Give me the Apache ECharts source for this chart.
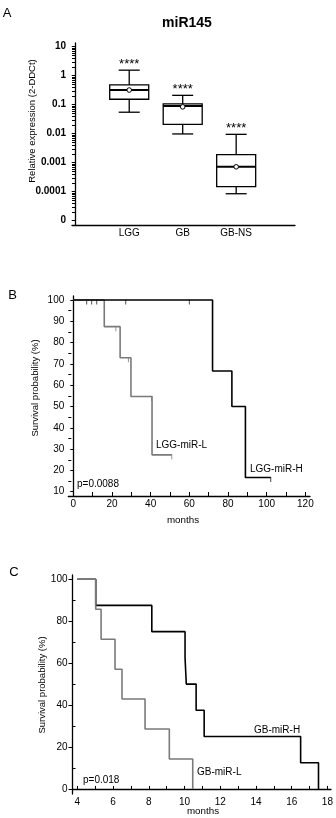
<!DOCTYPE html>
<html>
<head>
<meta charset="utf-8">
<script src="https://cdn.jsdelivr.net/npm/echarts@6/dist/echarts.min.js"></script>
<style>
  html, body { margin: 0; padding: 0; background: #fff; }
  #main { width: 336px; height: 818px; }
</style>
</head>
<body>
<div id="main"></div>
<script>
// panel A - miR145 expression boxplots
var groups = ['LGG', 'GB', 'GB-NS'];
var boxLow = [0.055, 0.0098, 0.000085];
var boxQ1 = [0.154, 0.021, 0.00015];
var boxMedian = [0.32, 0.09, 0.00072];
var boxQ3 = [0.48, 0.106, 0.0019];
var boxHigh = [1.55, 0.21, 0.0095];
var boxMean = [0.32, 0.084, 0.00072];
var signif = ['****', '****', '****'];
var decadeTicks = [0.00001, 0.0001, 0.001, 0.01, 0.1, 1, 10];
var decadeLabels = ['0', '0.0001', '0.001', '0.01', '0.1', '1', '10'];

// panel B - LGG survival
var lggLowMonths = [0, 16, 24.2, 29.8, 40.7, 50.9];
var lggLowSurv = [100, 87.5, 72.9, 54.7, 27.3, 27.3];
var lggLowCensMonths = [22, 28.5, 40.5, 50.9];
var lggLowCensSurv = [87.5, 72.9, 54.7, 27.3];
var lggHighMonths = [0, 72, 82, 89, 102.1];
var lggHighSurv = [100, 66.7, 50, 16.7, 16.7];
var lggHighCensMonths = [6.9, 9.5, 12.1, 27.1, 60, 102.1];
var lggHighCensSurv = [100, 100, 100, 100, 100, 16.7];
var bMonthTicks = [0, 10, 20, 30, 40, 50, 60, 70, 80, 90, 100, 110, 120];
var bMonthLabels = [0, 20, 40, 60, 80, 100, 120];
var bSurvLabels = [10, 20, 30, 40, 50, 60, 70, 80, 90, 100];
var bSurvMinor = [15, 25, 35, 45, 55, 65, 75, 85, 95];

// panel C - GB survival
var gbHighMonths = [4, 5.03, 8.17, 10.03, 10.1, 10.65, 11.1, 16.5, 17.5];
var gbHighSurv = [100, 87.5, 75, 62.5, 50, 37.5, 25, 12.5, 0];
var gbLowMonths = [4, 5.03, 5.33, 6.11, 6.5, 7.79, 9.15, 10.46];
var gbLowSurv = [100, 85.7, 71.4, 57.1, 42.9, 28.6, 14.3, 0];
var cMonthTicks = [4, 5, 6, 7, 8, 9, 10, 11, 12, 13, 14, 15, 16, 17, 18];
var cMonthLabels = [4, 6, 8, 10, 12, 14, 16, 18];
var cSurvLabels = [0, 20, 40, 60, 80, 100];
var cSurvMinor = [10, 30, 50, 70, 90];

var FONT = '"Liberation Sans", Arial, sans-serif';

function zip(xs, ys) {
    return xs.map(function (x, i) { return [x, ys[i]]; });
}

// log minor ticks 2..9 in every decade
var minorLog = [];
decadeTicks.slice(0, -1).forEach(function (d) {
    [2, 3, 4, 5, 6, 7, 8, 9].forEach(function (k) { minorLog.push(d * k); });
});

var boxData = groups.map(function (g, i) {
    return [i + 1, boxLow[i], boxQ1[i], boxMedian[i], boxQ3[i], boxHigh[i], boxMean[i]];
});

function renderBox(params, api) {
    var x = api.value(0);
    var pLow = api.coord([x, api.value(1)]);
    var pQ1 = api.coord([x, api.value(2)]);
    var pMed = api.coord([x, api.value(3)]);
    var pQ3 = api.coord([x, api.value(4)]);
    var pHigh = api.coord([x, api.value(5)]);
    var pMean = api.coord([x, api.value(6)]);
    var cx = pMed[0];
    var half = 19.5, cap = 10.5;
    var st = { stroke: '#000', lineWidth: 1.3 };
    return {
        type: 'group',
        children: [
            { type: 'line', shape: { x1: cx, y1: pHigh[1], x2: cx, y2: pQ3[1] }, style: st },
            { type: 'line', shape: { x1: cx, y1: pQ1[1], x2: cx, y2: pLow[1] }, style: st },
            { type: 'line', shape: { x1: cx - cap, y1: pHigh[1], x2: cx + cap, y2: pHigh[1] }, style: st },
            { type: 'line', shape: { x1: cx - cap, y1: pLow[1], x2: cx + cap, y2: pLow[1] }, style: st },
            { type: 'rect', shape: { x: cx - half, y: pQ3[1], width: half * 2, height: pQ1[1] - pQ3[1] },
              style: { stroke: '#000', fill: '#fff', lineWidth: 1.3 } },
            { type: 'line', shape: { x1: cx - half, y1: pMed[1], x2: cx + half, y2: pMed[1] },
              style: { stroke: '#000', lineWidth: 2 } },
            { type: 'circle', shape: { cx: cx, cy: pMean[1], r: 2.3 },
              style: { stroke: '#000', fill: '#fff', lineWidth: 1 } },
            { type: 'text', x: cx, y: pHigh[1] - 6,
              style: { text: signif[params.dataIndex], font: '13px ' + FONT, textAlign: 'center',
                       textVerticalAlign: 'middle', fill: '#000' } }
        ]
    };
}

function txt(text, x, y, size, opts) {
    opts = opts || {};
    return {
        type: 'text', x: x, y: y, rotation: opts.rotation || 0,
        style: {
            text: text, fill: '#000',
            font: (opts.bold ? 'bold ' : '') + size + 'px ' + FONT,
            textAlign: opts.align || 'center', textVerticalAlign: 'middle'
        }
    };
}

var axisLineStyle = { lineStyle: { color: '#000', width: 1.3 } };
var lblStyle = { color: '#000', fontSize: 10, fontFamily: FONT };

var myChart = echarts.init(document.getElementById('main'));

option = {
    animation: false,
    backgroundColor: '#fff',
    grid: [
        { left: 72, top: 43, width: 223, height: 182 },
        { left: 68.3, top: 296, width: 241.7, height: 200 },
        { left: 72.5, top: 575, width: 258.5, height: 219 }
    ],
    xAxis: [
        {
            type: 'value', gridIndex: 0, min: -0.07, max: 4.1,
            axisLine: axisLineStyle, axisTick: { show: false }, splitLine: { show: false },
            axisLabel: Object.assign({ margin: 3, customValues: [1, 2, 3],
                formatter: function (v) { return groups[Math.round(v) - 1] || ''; } }, lblStyle)
        },
        {
            type: 'value', gridIndex: 1, min: -2.6, max: 122.4,
            axisLine: axisLineStyle, splitLine: { show: false },
            axisTick: { customValues: bMonthTicks, inside: true, length: 4, lineStyle: { color: '#000' } },
            axisLabel: Object.assign({ margin: 3, customValues: bMonthLabels }, lblStyle)
        },
        {
            type: 'value', gridIndex: 2, min: 3.73, max: 18.2,
            axisLine: axisLineStyle, splitLine: { show: false },
            axisTick: { customValues: cMonthTicks, inside: true, length: 3, lineStyle: { color: '#000' } },
            axisLabel: Object.assign({ margin: 3, customValues: cMonthLabels }, lblStyle)
        }
    ],
    yAxis: [
        {
            type: 'log', gridIndex: 0, position: 'left', min: 0.0000071, max: 13.4,
            axisLine: axisLineStyle, splitLine: { show: false },
            axisTick: { customValues: decadeTicks, length: 4, lineStyle: { color: '#000' } },
            axisLabel: Object.assign({}, lblStyle, { fontWeight: 'bold', margin: 6, customValues: decadeTicks,
                formatter: function (v) {
                    var i = decadeTicks.findIndex(function (d) { return Math.abs(Math.log10(d) - Math.log10(v)) < 0.01; });
                    return i >= 0 ? decadeLabels[i] : '';
                } })
        },
        {
            type: 'log', gridIndex: 0, position: 'left', min: 0.0000071, max: 13.4,
            axisLine: { show: false }, splitLine: { show: false }, axisLabel: { show: false },
            axisTick: { customValues: minorLog, inside: true, length: 3.5, lineStyle: { color: '#000', width: 1 } }
        },
        {
            type: 'value', gridIndex: 1, position: 'left', min: 7.98, max: 101.9,
            axisLine: axisLineStyle, splitLine: { show: false },
            axisTick: { customValues: bSurvLabels, length: 3, lineStyle: { color: '#000' } },
            axisLabel: Object.assign({ margin: 4, customValues: bSurvLabels }, lblStyle)
        },
        {
            type: 'value', gridIndex: 1, position: 'left', min: 7.98, max: 101.9,
            axisLine: { show: false }, splitLine: { show: false }, axisLabel: { show: false },
            axisTick: { customValues: bSurvMinor, inside: true, length: 3, lineStyle: { color: '#000' } }
        },
        {
            type: 'value', gridIndex: 2, position: 'left', min: -2.4, max: 102,
            axisLine: axisLineStyle, splitLine: { show: false },
            axisTick: { customValues: cSurvLabels, length: 4, lineStyle: { color: '#000' } },
            axisLabel: Object.assign({ margin: 5, customValues: cSurvLabels }, lblStyle)
        },
        {
            type: 'value', gridIndex: 2, position: 'left', min: -2.4, max: 102,
            axisLine: { show: false }, splitLine: { show: false }, axisLabel: { show: false },
            axisTick: { customValues: cSurvMinor, inside: true, length: 3, lineStyle: { color: '#000' } }
        }
    ],
    series: [
        {
            type: 'custom', name: 'miR145', xAxisIndex: 0, yAxisIndex: 0,
            renderItem: renderBox, data: boxData,
            encode: { x: 0, y: [1, 2, 3, 4, 5] }
        },
        {
            type: 'line', name: 'LGG-miR-L', xAxisIndex: 1, yAxisIndex: 2, step: 'end',
            data: zip(lggLowMonths, lggLowSurv), symbol: 'none',
            lineStyle: { color: '#7a7a7a', width: 1.6 }
        },
        {
            type: 'scatter', xAxisIndex: 1, yAxisIndex: 2,
            data: zip(lggLowCensMonths, lggLowCensSurv),
            symbol: 'rect', symbolSize: [1, 5], symbolOffset: [0, 2],
            itemStyle: { color: '#7a7a7a' }
        },
        {
            type: 'line', name: 'LGG-miR-H', xAxisIndex: 1, yAxisIndex: 2, step: 'end',
            data: zip(lggHighMonths, lggHighSurv), symbol: 'none',
            lineStyle: { color: '#000', width: 1.6 }
        },
        {
            type: 'scatter', xAxisIndex: 1, yAxisIndex: 2,
            data: zip(lggHighCensMonths, lggHighCensSurv),
            symbol: 'rect', symbolSize: [1, 5], symbolOffset: [0, 2],
            itemStyle: { color: '#222' }
        },
        {
            type: 'line', name: 'GB-miR-H', xAxisIndex: 2, yAxisIndex: 4, step: 'end',
            data: zip(gbHighMonths, gbHighSurv), symbol: 'none',
            lineStyle: { color: '#000', width: 1.6 }
        },
        {
            type: 'line', name: 'GB-miR-L', xAxisIndex: 2, yAxisIndex: 4, step: 'end',
            data: zip(gbLowMonths, gbLowSurv), symbol: 'none',
            lineStyle: { color: '#7a7a7a', width: 1.6 }
        }
    ],
    graphic: [
        txt('A', 7, 13, 13),
        txt('miR145', 187, 23, 14, { bold: true }),
        txt('Relative expression (2-DDCt)', 32, 121, 9.5, { rotation: Math.PI / 2 }),
        txt('B', 12.5, 295, 13),
        txt('Survival probability (%)', 35.5, 388, 9.5, { rotation: Math.PI / 2 }),
        txt('months', 183, 520, 9.8),
        txt('LGG-miR-L', 156, 445, 10, { align: 'left' }),
        txt('LGG-miR-H', 250, 469.5, 10, { align: 'left' }),
        txt('p=0.0088', 77, 484.5, 10, { align: 'left' }),
        txt('C', 14, 572, 13),
        txt('Survival probability (%)', 42.5, 685, 9.5, { rotation: Math.PI / 2 }),
        txt('months', 203, 811, 9.8),
        txt('GB-miR-H', 254, 730, 10, { align: 'left' }),
        txt('GB-miR-L', 197, 772, 10, { align: 'left' }),
        txt('p=0.018', 83, 780.5, 10, { align: 'left' })
    ]
};

myChart.setOption(option);
</script>
</body>
</html>
